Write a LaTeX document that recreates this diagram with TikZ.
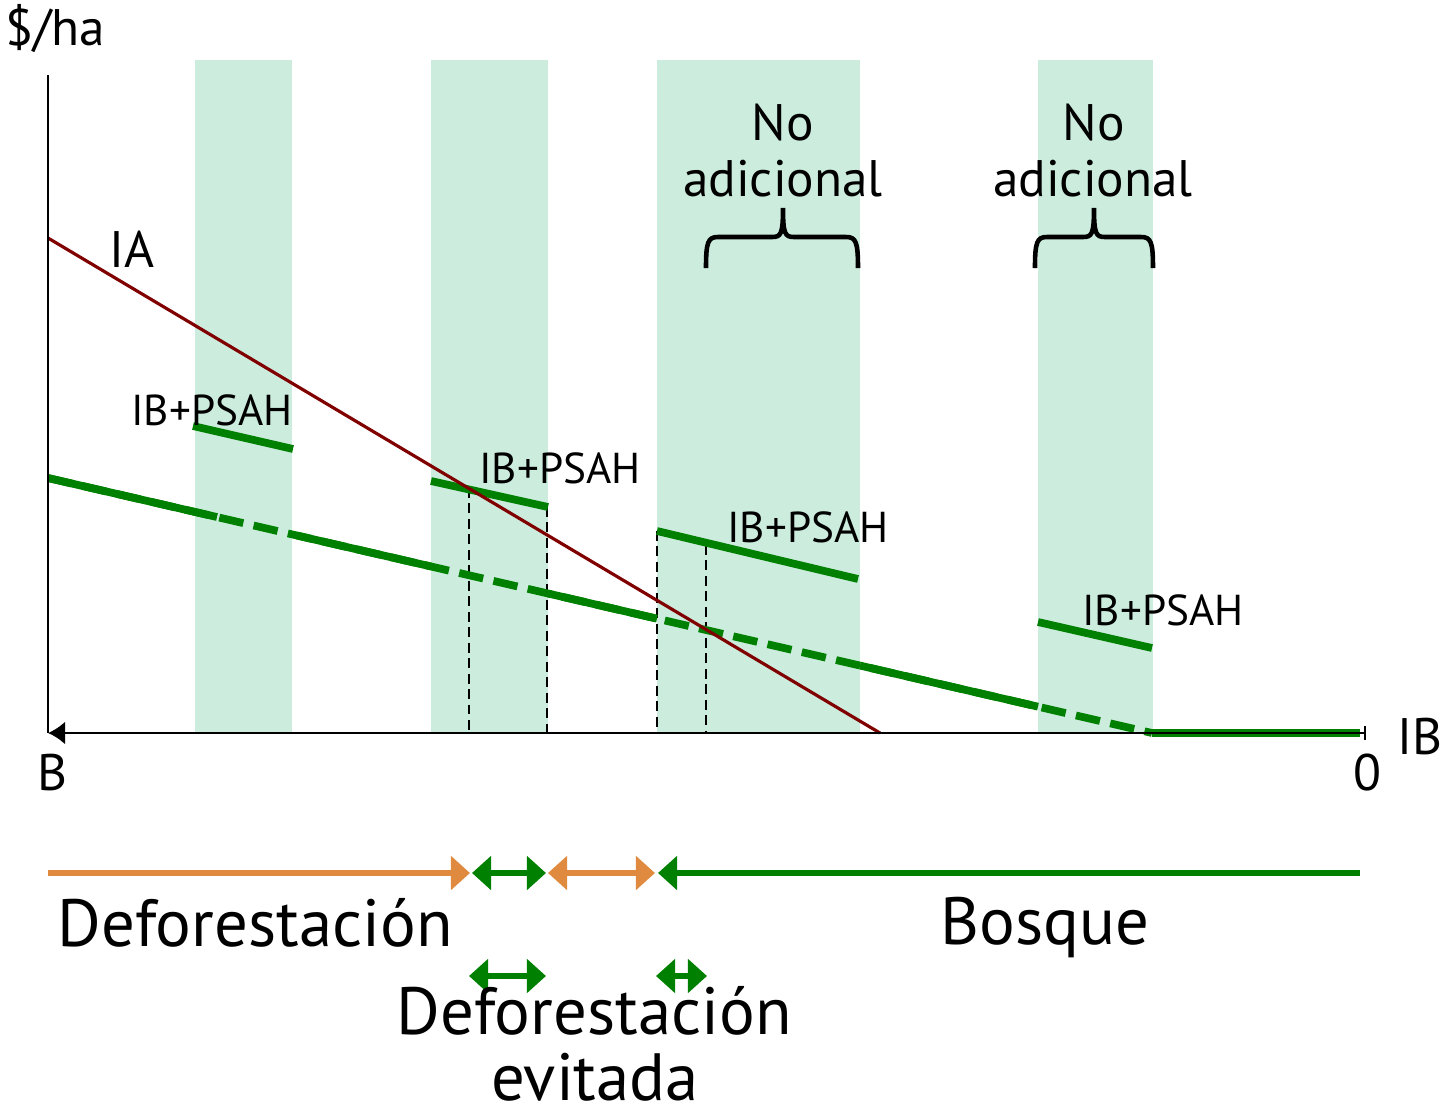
\documentclass[tikz,border=0pt]{standalone}
\usepackage{fontspec}
\setmainfont{PT Sans}
\usetikzlibrary{positioning,arrows,arrows.meta,calc}
\definecolor{bandgreen}{RGB}{204,237,222}
\definecolor{psahgreen}{RGB}{0,128,0}
\definecolor{iared}{RGB}{128,0,0}
\definecolor{defor}{RGB}{224,138,64}
\tikzset{band/.style={fill=bandgreen,draw=none},
	psah/.style={draw=psahgreen,line width=2.2pt},
	base/.style={draw=psahgreen,line width=2.2pt,dash pattern=on 7pt off 3pt},
	guide/.style={draw=black,line width=0.6pt,dash pattern=on 2.8pt off 1.6pt},
	lbl/.style={anchor=base,inner sep=0pt,font=\fontsize{12.3}{14}\selectfont},
	mid/.style={anchor=base,inner sep=0pt,font=\fontsize{14.6}{17}\selectfont},
	big/.style={anchor=base,inner sep=0pt,font=\fontsize{19}{22}\selectfont},
	defspan/.style={draw=defor,line width=1.8pt},
	forspan/.style={draw=psahgreen,line width=1.8pt},
	avoided/.style={draw=psahgreen,line width=1.5pt},
	nobrace/.style={draw=black,line width=1.3pt}
}
\begin{document}
\begin{tikzpicture}[x=0.01cm,y=-0.01cm,>={Triangle[length=1.9mm,width=3.3mm]}]
	\useasboundingbox (0,0) rectangle (1441,1117);
	\foreach \a/\b in {195/292,431/548,657/860,1038/1153}
		\fill[band] (\a,60) rectangle (\b,733);

	\coordinate (O) at (48,733);
	\coordinate (Ytop) at (48,75);
	\coordinate (Xend) at (1365,733);
	\coordinate (IA1) at (48,238);
	\coordinate (IA2) at (880,733);
	\coordinate (F1) at (48,478);
	\coordinate (F2) at (1152,733);
	\coordinate (F3) at (1360,733);
	\coordinate (S1a) at (193,426);
	\coordinate (S1b) at (293,449);
	\coordinate (S2a) at (431,481);
	\coordinate (S2b) at (548,507);
	\coordinate (S3a) at (657,531);
	\coordinate (S3b) at (858,579);
	\coordinate (S4a) at (1038,622);
	\coordinate (S4b) at (1152,648);

	\draw[guide] (469,488) coordinate (G1) -- (G1 |- O);
	\draw[guide] (547,507) coordinate (G2) -- (G2 |- O);
	\draw[guide] (S3a) -- (S3a |- O);
	\draw[guide] (706,545) coordinate (G4) -- (G4 |- O);

	\draw[base] (F1) -- (F2);
	\foreach \a/\b in {48/217,297/431,548/657,860/1038}
		\draw[psah] ($(F1)!{(\a-48)/1104}!(F2)$) -- ($(F1)!{(\b-48)/1104}!(F2)$);
	\draw[psah] (F2) -- (F3);
	\draw[psah] (S1a) -- (S1b);
	\draw[psah] (S2a) -- (S2b);
	\draw[psah] (S3a) -- (S3b);
	\draw[psah] (S4a) -- (S4b);
	\draw[iared,line width=0.9pt] (IA1) -- (IA2);

	\draw[line width=0.8pt] (Ytop) -- (O);
	\draw[line width=0.8pt,{Latex[length=1.7mm,width=2.3mm]}-] (O) -- (Xend);
	\draw[line width=0.8pt] (1365,726) -- (1365,740);

	\draw[nobrace] (706,268) .. controls (706,242) and (708,237) .. (718,237) -- (772,237) .. controls (781,237) and (783,234) .. (783,208) .. controls (783,234) and (785,237) .. (794,237) -- (846,237) .. controls (856,237) and (858,242) .. (858,268);
	\draw[nobrace] (1035,268) .. controls (1035,242) and (1037,237) .. (1047,237) -- (1083,237) .. controls (1092,237) and (1094,234) .. (1094,208) .. controls (1094,234) and (1096,237) .. (1105,237) -- (1141,237) .. controls (1151,237) and (1153,242) .. (1153,268);

	\node[mid] (ylab) at (55,45) {\$/ha};
	\node[mid] (IA) at (132,267) {IA};
	\node[lbl] (P1) at (212,425) {IB+PSAH};
	\node[lbl] (P2) at (560,483) {IB+PSAH};
	\node[lbl] (P3) at (808,542) {IB+PSAH};
	\node[lbl] (P4) at (1163,625) {IB+PSAH};
	\node[mid] (N1) at (783,140) {No};
	\node[mid] (A1) at (783,196) {adicional};
	\node[mid] (N2) at (1094,140) {No};
	\node[mid] (A2) at (1093,196) {adicional};
	\node[mid] (B) at (52,790) {B};
	\node[mid] (zero) at (1367,790) {0};
	\node[mid] (IB) at (1420,754) {IB};

	\coordinate (D0) at (48,873);
	\coordinate (D1) at (470,873);
	\coordinate (D2) at (472,873);
	\coordinate (D3) at (546,873);
	\coordinate (D4) at (548,873);
	\coordinate (D5) at (655,873);
	\coordinate (D6) at (658,873);
	\coordinate (D7) at (1360,873);
	\draw[defspan,->] (D0) -- (D1);
	\draw[forspan,<->] (D2) -- (D3);
	\draw[defspan,<->] (D4) -- (D5);
	\draw[forspan,<-] (D6) -- (D7);

	\coordinate (E1) at (469,976);
	\coordinate (E2) at (546,976);
	\coordinate (E3) at (656,976);
	\coordinate (E4) at (707,976);
	\draw[avoided,<->] (E1) -- (E2);
	\draw[avoided,<->] (E3) -- (E4);

	\node[big] (defo) at (255,946) {Deforestación};
	\node[big] (bosque) at (1045,944) {Bosque};
	\node[big] (evit1) at (594,1034) {Deforestación};
	\node[big] (evit2) at (595,1100) {evitada};
\end{tikzpicture}
\end{document}
